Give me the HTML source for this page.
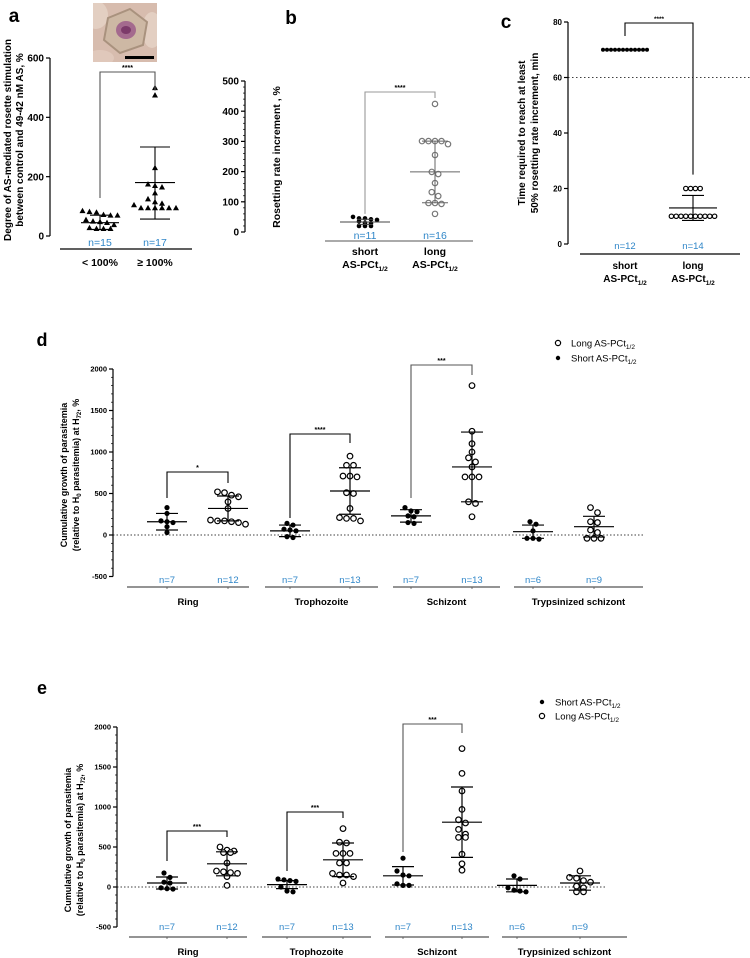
<!DOCTYPE html>
<html><head><meta charset="utf-8">
<style>
html,body{margin:0;padding:0;background:#fff;}
svg{display:block;font-family:"Liberation Sans",Arial,sans-serif;}
</style></head>
<body>
<svg id="chart" width="750" height="958" viewBox="0 0 750 958" xmlns="http://www.w3.org/2000/svg">
  <defs><clipPath id="micro-clip"><rect x="93" y="3" width="64" height="59"/></clipPath></defs>
  <g clip-path="url(#micro-clip)">
    <rect x="93" y="3" width="64" height="59" fill="#d7bcae"/>
    <ellipse cx="96" cy="15" rx="12" ry="14" fill="#e3cfc2"/>
    <ellipse cx="152" cy="30" rx="10" ry="18" fill="#e3cfc2"/>
    <ellipse cx="100" cy="58" rx="14" ry="8" fill="#e0c8bb"/>
    <polygon points="108,18 130,9 147,22 143,45 120,53 104,40" fill="#cdb8a4" stroke="#a9927e" stroke-width="2"/>
    <ellipse cx="126" cy="30" rx="10" ry="9" fill="#a46a8e"/>
    <ellipse cx="126" cy="30" rx="5" ry="4" fill="#7c3a6a"/>
    <rect x="125" y="56" width="29" height="3" fill="#000"/>
  </g>
</svg>
<script>
// ---------- DATA ----------
// Panel a
const aCategories = ['< 100%', '\u2265 100%'];
const aLow = [85, 82, 80, 72, 70, 70, 55, 50, 48, 45, 38, 28, 25, 25, 25];
const aHigh = [500, 475, 230, 175, 170, 165, 145, 125, 115, 110, 105, 95, 95, 95, 95, 95, 95];
const aMean = [45, 180];
const aSdLow = [22, 57];
const aSdHigh = [70, 300];
const aN = ['n=15', 'n=17'];
const aTicks = [0, 200, 400, 600];
// Panel b
const bCategories = ['short', 'long'];
const bShort = [50, 45, 45, 42, 40, 35, 30, 28, 20, 20, 20];
const bLong = [424, 301, 301, 301, 301, 291, 255, 199, 192, 162, 132, 119, 96, 96, 93, 60];
const bMean = [33, 199];
const bSdLow = [25, 97];
const bSdHigh = [42, 301];
const bN = ['n=11', 'n=16'];
const bTicks = [0, 100, 200, 300, 400, 500];
// Panel c
const cCategories = ['short', 'long'];
const cShort = [70, 70, 70, 70, 70, 70, 70, 70, 70, 70, 70, 70];
const cLong = [20, 20, 20, 20, 10, 10, 10, 10, 10, 10, 10, 10, 10, 10];
const cMean = [70, 13];
const cSdLow = [70, 8.5];
const cSdHigh = [70, 17.5];
const cN = ['n=12', 'n=14'];
const cTicks = [0, 20, 40, 60, 80];
const cThreshold = [60];
// Panel d
const dStages = ['Ring', 'Trophozoite', 'Schizont', 'Trypsinized schizont'];
const dShort = [
  [330, 260, 170, 160, 150, 100, 30],
  [140, 120, 70, 60, 50, -20, -30],
  [330, 290, 280, 230, 220, 150, 140],
  [160, 130, 50, -40, -50, -40]
];
const dLong = [
  [520, 510, 480, 460, 400, 320, 180, 170, 170, 160, 150, 130],
  [950, 840, 840, 710, 710, 700, 510, 500, 320, 210, 200, 200, 170],
  [1800, 1250, 1100, 1000, 930, 880, 820, 700, 700, 700, 400, 380, 220],
  [330, 270, 160, 150, 60, 30, -40, -40, -40]
];
const dShortMean = [160, 50, 230, 40];
const dShortSd = [100, 70, 75, 80];
const dLongMean = [320, 530, 820, 100];
const dLongSd = [150, 280, 420, 125];
const dShortN = ['n=7', 'n=7', 'n=7', 'n=6'];
const dLongN = ['n=12', 'n=13', 'n=13', 'n=9'];
const dTicks = [-500, 0, 500, 1000, 1500, 2000];
// Panel e
const eStages = ['Ring', 'Trophozoite', 'Schizont', 'Trypsinized schizont'];
const eShort = [
  [175, 120, 60, 50, -10, -20, -25],
  [100, 90, 80, 70, 0, -50, -60],
  [360, 200, 150, 140, 40, 20, 20],
  [140, 100, -10, -40, -50, -60]
];
const eLong = [
  [500, 460, 450, 430, 430, 300, 200, 190, 180, 170, 130, 20],
  [730, 560, 550, 420, 420, 420, 300, 300, 170, 150, 150, 130, 50],
  [1730, 1420, 1200, 970, 840, 800, 720, 660, 620, 620, 410, 290, 210],
  [200, 120, 110, 80, 60, 10, -10, -60, -60]
];
const eShortMean = [50, 30, 140, 20];
const eShortSd = [75, 50, 115, 80];
const eLongMean = [290, 340, 810, 50];
const eLongSd = [150, 210, 440, 90];
const eShortN = ['n=7', 'n=7', 'n=7', 'n=6'];
const eLongN = ['n=12', 'n=13', 'n=13', 'n=9'];
const eTicks = [-500, 0, 500, 1000, 1500, 2000];

// ---------- HELPERS ----------
const NS = 'http://www.w3.org/2000/svg';
const svg = document.getElementById('chart');
const BLUE = '#2f86c8';

function mk(tag, attrs, parent, name) {
  const e = document.createElementNS(NS, tag);
  for (const k in attrs) e.setAttribute(k, attrs[k]);
  
  
  (parent || svg).appendChild(e);
  return e;
}
function group(name) { return mk('g', {}, svg, name); }
function txt(g, x, y, s, o, name) {
  o = o || {};
  const t = mk('text', {x: x, y: y, 'font-size': o.fs || 10, 'font-weight': o.fw || 'bold',
    'text-anchor': o.anchor || 'middle', fill: o.fill || '#000'}, g, name);
  if (o.tr) t.setAttribute('transform', o.tr);
  t.textContent = s;
  return t;
}
function asPct(g, x, y, fs, pre, name) {
  const t = mk('text', {x: x, y: y, 'font-size': fs, 'font-weight': 'bold', 'text-anchor': 'middle'}, g, name);
  t.appendChild(document.createTextNode(pre));
  const s = mk('tspan', {'font-size': fs * 0.65, dy: 3}, t, name + '-subscript');
  s.textContent = '1/2';
  return t;
}
function line(g, x1, y1, x2, y2, color, w, name, dash) {
  const l = mk('line', {x1: x1, y1: y1, x2: x2, y2: y2, stroke: color || '#000', 'stroke-width': w || 1}, g, name);
  if (dash) l.setAttribute('stroke-dasharray', dash);
  return l;
}
function scale(vmin, vmax, yBot, yTop) {
  return v => yBot - (v - vmin) * (yBot - yTop) / (vmax - vmin);
}
function axis(g, x, sc, ticks, minorStep, fs, color, name) {
  const lo = ticks[0], hi = ticks[ticks.length - 1];
  line(g, x, sc(hi), x, sc(lo), color, 1.2, name + '-line');
  if (minorStep) {
    for (let v = lo; v <= hi + 1e-9; v += minorStep) line(g, x - 2, sc(v), x, sc(v), color, 0.7, name + '-minor-tick');
  }
  ticks.forEach(v => {
    line(g, x - 4, sc(v), x, sc(v), color, 1.2, name + '-tick');
    txt(g, x - 6, sc(v) + fs * 0.36, String(v), {fs: fs, anchor: 'end'}, name + '-tick-label');
  });
}
function marker(g, x, y, type, r, color, name) {
  if (type === 'tri') {
    mk('polygon', {points: (x) + ',' + (y - r) + ' ' + (x - r) + ',' + (y + r * 0.8) + ' ' + (x + r) + ',' + (y + r * 0.8), fill: color}, g, name);
  } else if (type === 'open') {
    mk('circle', {cx: x, cy: y, r: r, fill: '#fff', stroke: color, 'stroke-width': 1.2}, g, name);
  } else {
    mk('circle', {cx: x, cy: y, r: r, fill: color}, g, name);
  }
}
function swarm(g, vals, cx, sc, type, r, gap, color, name) {
  const pts = vals.map(v => ({v: v, y: sc(v)})).sort((a, b) => a.y - b.y);
  const rows = [];
  pts.forEach(p => {
    const last = rows[rows.length - 1];
    if (last && p.y - last[0].y < r * 1.9) last.push(p); else rows.push([p]);
  });
  rows.forEach(row => {
    row.forEach((p, i) => {
      marker(g, cx + (i - (row.length - 1) / 2) * gap, p.y, type, r, color, name);
    });
  });
}
function errbar(g, cx, sc, mean, lo, hi, mw, cw, color, w, name) {
  line(g, cx, sc(hi), cx, sc(lo), color, w, name + '-sd-line');
  line(g, cx - cw, sc(hi), cx + cw, sc(hi), color, w, name + '-sd-cap-upper');
  line(g, cx - cw, sc(lo), cx + cw, sc(lo), color, w, name + '-sd-cap-lower');
  line(g, cx - mw, sc(mean), cx + mw, sc(mean), color, w, name + '-mean-line');
}
function bracket(g, x1, x2, yTop, yL, yR, label, color, fs, name) {
  mk('polyline', {points: x1 + ',' + yL + ' ' + x1 + ',' + yTop + ' ' + x2 + ',' + yTop + ' ' + x2 + ',' + yR,
    fill: 'none', stroke: color, 'stroke-width': 1.1}, g, name);
  txt(g, (x1 + x2) / 2, yTop - 2, label, {fs: fs || 8}, name + '-label');
}

// ---------- PANEL A ----------
(function () {
  const g = group('panel-a');
  txt(g, 14, 22, 'a', {fs: 19}, 'panel-a-letter');
  const sc = scale(0, 600, 236, 58);
  axis(g, 50, sc, aTicks, 0, 10, '#000', 'panel-a-y-axis');
  txt(g, 0, 0, 'Degree of AS-mediated rosette stimulation', {fs: 10, tr: 'translate(11,140) rotate(-90)'}, 'panel-a-y-title-line1');
  txt(g, 0, 0, 'between control and 49-42 nM AS, %', {fs: 10, tr: 'translate(23,140) rotate(-90)'}, 'panel-a-y-title-line2');
  const xs = [100, 155];
  const series = [aLow, aHigh];
  series.forEach((vals, i) => {
    swarm(g, vals, xs[i], sc, 'tri', 3, 7, '#000', 'panel-a-point-' + i);
    errbar(g, xs[i], sc, aMean[i], aSdLow[i], aSdHigh[i], i ? 20 : 19, i ? 15 : 10, '#000', 1.1, 'panel-a-group-' + i);
    txt(g, xs[i], 246, aN[i], {fs: 10.5, fw: 'normal', fill: BLUE}, 'panel-a-n-label');
    txt(g, xs[i], 266, aCategories[i], {fs: 10.5}, 'panel-a-category-label');
  });
  line(g, 60, 249, 192, 249, '#000', 1.2, 'panel-a-x-baseline');
  bracket(g, xs[0], xs[1], 72, sc(128), sc(490), '****', '#555', 7, 'panel-a-significance');
})();

// ---------- PANEL B ----------
(function () {
  const g = group('panel-b');
  txt(g, 291, 24, 'b', {fs: 19}, 'panel-b-letter');
  const sc = scale(0, 500, 232, 81);
  axis(g, 245, sc, bTicks, 20, 10, '#000', 'panel-b-y-axis');
  txt(g, 0, 0, 'Rosetting rate increment , %', {fs: 10.5, tr: 'translate(280,157) rotate(-90)'}, 'panel-b-y-title');
  const xs = [365, 435];
  [bShort, bLong].forEach((vals, i) => {
    swarm(g, vals, xs[i], sc, i ? 'open' : 'dot', i ? 2.7 : 2.3, i ? 6.5 : 6, i ? '#777' : '#000', 'panel-b-point-' + i);
    errbar(g, xs[i], sc, bMean[i], bSdLow[i], bSdHigh[i], i ? 25 : 25, i ? 13 : 8, i ? '#666' : '#444', 1, 'panel-b-group-' + i);
    txt(g, xs[i], 239, bN[i], {fs: 10.5, fw: 'normal', fill: BLUE}, 'panel-b-n-label');
    txt(g, xs[i], 255, bCategories[i], {fs: 10.5}, 'panel-b-category-label');
    asPct(g, xs[i], 268, 10.5, 'AS-PCt', 'panel-b-category-sublabel');
  });
  line(g, 325, 241, 473, 241, '#555', 1, 'panel-b-x-baseline');
  bracket(g, xs[0], xs[1], 92, sc(40) - 6, sc(424) - 6, '****', '#999', 7, 'panel-b-significance');
})();

// ---------- PANEL C ----------
(function () {
  const g = group('panel-c');
  txt(g, 506, 28, 'c', {fs: 19}, 'panel-c-letter');
  const sc = scale(0, 80, 244, 22);
  axis(g, 568, sc, cTicks, 0, 8, '#000', 'panel-c-y-axis');
  txt(g, 0, 0, 'Time required to reach at least', {fs: 10, tr: 'translate(525,133) rotate(-90)'}, 'panel-c-y-title-line1');
  txt(g, 0, 0, '50% rosetting rate increment, min', {fs: 10, tr: 'translate(538,133) rotate(-90)'}, 'panel-c-y-title-line2');
  line(g, 568, sc(cThreshold[0]), 750, sc(cThreshold[0]), '#000', 0.8, 'panel-c-threshold-line', '1.5,2.5');
  const xs = [625, 693];
  [cShort, cLong].forEach((vals, i) => {
    swarm(g, vals, xs[i], sc, i ? 'open' : 'dot', i ? 2.2 : 2, i ? 4.8 : 4, '#000', 'panel-c-point-' + i);
    if (i) errbar(g, xs[i], sc, cMean[i], cSdLow[i], cSdHigh[i], 24, 11, '#000', 1.1, 'panel-c-group-' + i);
    else line(g, xs[i] - 22, sc(cMean[i]), xs[i] + 22, sc(cMean[i]), '#000', 1, 'panel-c-group-0-mean-line');
    txt(g, xs[i], 249, cN[i], {fs: 9.5, fw: 'normal', fill: BLUE}, 'panel-c-n-label');
    txt(g, xs[i], 269, cCategories[i], {fs: 10}, 'panel-c-category-label');
    asPct(g, xs[i], 282, 10, 'AS-PCt', 'panel-c-category-sublabel');
  });
  line(g, 580, 254, 740, 254, '#000', 1.2, 'panel-c-x-baseline');
  bracket(g, xs[0], xs[1], 23, 36, sc(25), '****', '#000', 6.5, 'panel-c-significance');
})();

// ---------- PANELS D & E ----------
function stagePanel(cfg) {
  const g = group(cfg.name);
  txt(g, cfg.letterX, cfg.letterY, cfg.letter, {fs: 18}, cfg.name + '-letter');
  const sc = scale(-500, 2000, cfg.yBot, cfg.yTop);
  axis(g, cfg.axisX, sc, cfg.ticks, 100, 7.5, '#000', cfg.name + '-y-axis');
  txt(g, 0, 0, 'Cumulative growth of parasitemia', {fs: 9, tr: 'translate(' + cfg.titleX + ',' + cfg.titleY + ') rotate(-90)'}, cfg.name + '-y-title-line1');
  const t2 = mk('text', {x: 0, y: 0, 'font-size': 9, 'font-weight': 'bold', 'text-anchor': 'middle',
    transform: 'translate(' + (cfg.titleX + 12) + ',' + cfg.titleY + ') rotate(-90)'}, g, cfg.name + '-y-title-line2');
  t2.appendChild(document.createTextNode('(relative to H'));
  const s0 = mk('tspan', {'font-size': 6, dy: 2}, t2, cfg.name + '-y-title-sub0'); s0.textContent = '0';
  const m0 = mk('tspan', {dy: -2}, t2, cfg.name + '-y-title-mid'); m0.textContent = ' parasitemia) at H';
  const s1 = mk('tspan', {'font-size': 6, dy: 2}, t2, cfg.name + '-y-title-sub72'); s1.textContent = '72';
  const m1 = mk('tspan', {dy: -2}, t2, cfg.name + '-y-title-end'); m1.textContent = ', %';
  line(g, cfg.axisX, sc(0), cfg.zeroEnd, sc(0), '#000', 0.8, cfg.name + '-zero-line', '1.5,2');
  cfg.stages.forEach((st, i) => {
    const xS = cfg.xs[2 * i], xL = cfg.xs[2 * i + 1];
    swarm(g, cfg.short[i], xS, sc, 'dot', 2.6, 6, '#000', cfg.name + '-short-point');
    swarm(g, cfg.long[i], xL, sc, 'open', 2.8, 7, '#000', cfg.name + '-long-point');
    errbar(g, xS, sc, cfg.sMean[i], cfg.sMean[i] - cfg.sSd[i], cfg.sMean[i] + cfg.sSd[i], 20, 11, '#000', 1.2, cfg.name + '-short-' + i);
    errbar(g, xL, sc, cfg.lMean[i], cfg.lMean[i] - cfg.lSd[i], cfg.lMean[i] + cfg.lSd[i], 20, 11, '#000', 1.2, cfg.name + '-long-' + i);
    txt(g, xS, cfg.nY, cfg.sN[i], {fs: 9.5, fw: 'normal', fill: BLUE}, cfg.name + '-n-label-short');
    txt(g, xL, cfg.nY, cfg.lN[i], {fs: 9.5, fw: 'normal', fill: BLUE}, cfg.name + '-n-label-long');
    const seg = cfg.segs[i];
    line(g, seg[0], cfg.baseY, seg[1], cfg.baseY, '#555', 1.3, cfg.name + '-stage-baseline');
    line(g, xS, cfg.baseY, xS, cfg.baseY + 2, '#555', 0.8, cfg.name + '-stage-tick');
    line(g, xL, cfg.baseY, xL, cfg.baseY + 2, '#555', 0.8, cfg.name + '-stage-tick');
    txt(g, (seg[0] + seg[1]) / 2, cfg.labelY, st, {fs: 9.5}, cfg.name + '-stage-label');
  });
  cfg.brackets.forEach((b, i) => {
    const xS = cfg.xs[2 * i], xL = cfg.xs[2 * i + 1];
    bracket(g, xS, xL, b[0], b[1], b[2], b[3], i === 2 ? '#555' : '#000', 7, cfg.name + '-significance');
  });
  cfg.legend.forEach((lg, i) => {
    marker(g, cfg.legX, cfg.legY + i * cfg.legGap, lg[0], lg[0] === 'open' ? 2.6 : 2.2, '#000', cfg.name + '-legend-marker');
    const t = mk('text', {x: cfg.legX + 13, y: cfg.legY + i * cfg.legGap + 3.5, 'font-size': 9.5}, g, cfg.name + '-legend-entry');
    t.appendChild(document.createTextNode(lg[1]));
    const s = mk('tspan', {'font-size': 6.5, dy: 2.5}, t, cfg.name + '-legend-subscript'); s.textContent = '1/2';
  });
}
stagePanel({
  name: 'panel-d', letter: 'd', letterX: 42, letterY: 346, axisX: 113, yTop: 369, yBot: 576.5,
  ticks: dTicks, titleX: 67, titleY: 475, zeroEnd: 645,
  xs: [167, 228, 290, 350, 411, 472, 533, 594],
  stages: dStages, short: dShort, long: dLong, sMean: dShortMean, sSd: dShortSd, lMean: dLongMean, lSd: dLongSd,
  sN: dShortN, lN: dLongN, nY: 583, baseY: 587, labelY: 605,
  segs: [[127, 249], [265, 378], [393, 500], [514, 643]],
  brackets: [[472, 498, 483, '*'], [434, 518, 443, '****'], [365, 498, 375, '***']],
  legend: [['open', 'Long AS-PCt'], ['dot', 'Short AS-PCt']], legX: 558, legY: 343, legGap: 15
});
stagePanel({
  name: 'panel-e', letter: 'e', letterX: 42, letterY: 694, axisX: 117, yTop: 727, yBot: 927,
  ticks: eTicks, titleX: 71, titleY: 840, zeroEnd: 605,
  xs: [167, 227, 287, 343, 403, 462, 517, 580],
  stages: eStages, short: eShort, long: eLong, sMean: eShortMean, sSd: eShortSd, lMean: eLongMean, lSd: eLongSd,
  sN: eShortN, lN: eLongN, nY: 930, baseY: 937, labelY: 955,
  segs: [[129, 247], [262, 371], [385, 489], [502, 627]],
  brackets: [[831, 861, 837, '***'], [812, 871, 818, '***'], [724, 852, 733, '***']],
  legend: [['dot', 'Short AS-PCt'], ['open', 'Long AS-PCt']], legX: 542, legY: 702, legGap: 14
});
</script>
</body></html>
